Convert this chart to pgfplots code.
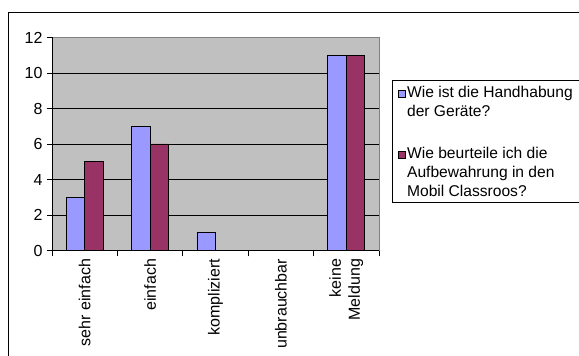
\documentclass[border=0pt]{standalone}
\usepackage{pgfplots}
\pgfplotsset{compat=1.18}
\usepackage{fontspec}
\setmainfont{Liberation Sans}
\definecolor{serA}{HTML}{9999FF}
\definecolor{serB}{HTML}{993366}
\definecolor{plotbg}{HTML}{C0C0C0}
\begin{document}
\begin{tikzpicture}[x=1pt,y=1pt]
\draw[black, line width=0.9pt] (8,-20) -- (8,344) -- (600,344);
\begin{axis}[
  at={(52pt,105.5pt)}, anchor=south west,
  scale only axis, width=327pt, height=213pt,
  font=\fontsize{16}{19}\selectfont,
  /pgf/number format/assume math mode=true,
  xmin=-0.5, xmax=4.5, ymin=0, ymax=12,
  ytick={0,2,4,6,8,10,12},
  xtick={0,1,2,3,4},
  xticklabels={sehr einfach, einfach, kompliziert, unbrauchbar, {keine\\Meldung}},
  minor xtick={-0.5,0.5,1.5,2.5,3.5,4.5},
  every major x tick/.style={draw=none},
  tick pos=left, tick align=outside,
  major tick length=5pt, minor tick length=6pt,
  every tick/.style={black, line width=0.8pt},
  xticklabel style={rotate=90, anchor=east, align=right},
  yticklabel style={xshift=-1pt},
  ymajorgrids, major grid style={black, line width=0.8pt},
  axis background/.style={fill=plotbg},
  axis line style={draw=gray, line width=0.8pt},
  after end axis/.code={
    \draw[black, line width=0.9pt] (rel axis cs:0,1) -- (rel axis cs:0,0) -- (rel axis cs:1,0);
  },
  legend style={at={(1.0398,0.8005)}, anchor=north west, draw=black, line width=0.8pt,
    font=\fontsize{15.6}{19}\selectfont, inner xsep=6pt, inner ysep=4pt,
    row sep=27pt, column sep=0pt,
    cells={anchor=north west}, nodes={align=left, inner sep=1pt}},
]
\addplot[ybar, fill=serA, draw=black, line width=0.7pt, bar width=0.283, bar shift=-0.1415,
  legend image code/.code={\draw[fill=serA, draw=black, line width=0.7pt] (0pt,-13pt) rectangle (7pt,-6pt);}]
  coordinates {(0,3) (1,7) (2,1) (4,11)};
\addlegendentry{Wie ist die Handhabung\\der Geräte?}
\addplot[ybar, fill=serB, draw=black, line width=0.7pt, bar width=0.283, bar shift=0.1415,
  legend image code/.code={\draw[fill=serB, draw=black, line width=0.7pt] (0pt,-13pt) rectangle (7pt,-6pt);}]
  coordinates {(0,5) (1,6) (4,11)};
\addlegendentry{Wie beurteile ich die\\Aufbewahrung in den\\Mobil Classroos?}
\end{axis}
\pgfresetboundingbox
\path[use as bounding box] (0,0) rectangle (579,356);
\end{tikzpicture}
\end{document}
